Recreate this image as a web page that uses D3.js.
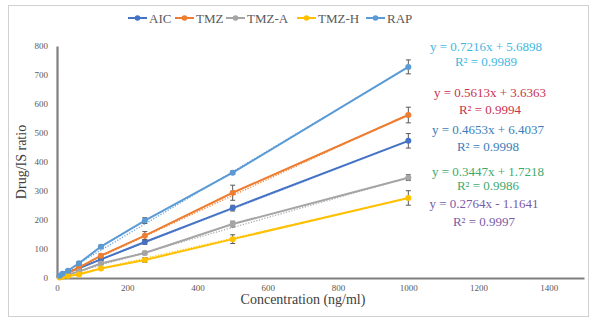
<!DOCTYPE html>
<html><head><meta charset="utf-8">
<script src="https://cdn.jsdelivr.net/npm/d3@7"></script>
<style>body{margin:0;background:#fff}svg{display:block}</style>
</head><body>
<svg id="c" width="590" height="320"></svg>
<script>
const concentrations = [7.8, 15.6, 31.25, 62.5, 125, 250, 500, 1000];
const seriesNames = ["AIC", "TMZ", "TMZ-A", "TMZ-H", "RAP"];
const AIC   = [7, 12, 20, 33, 64, 124, 241, 473];
const TMZ   = [6, 10, 18, 36, 77, 146, 294, 562];
const TMZ_A = [4, 7, 12, 22, 50, 86, 186, 346];
const TMZ_H = [2, 4, 7, 12, 33, 62, 134, 276];
const RAP   = [8, 15, 25, 51, 108, 198, 363, 728];
const errAIC   = [1, 1, 2, 3, 4, 8, 10, 25];
const errTMZ   = [1, 1, 2, 3, 5, 14, 26, 27];
const errTMZ_A = [1, 1, 1, 2, 3, 6, 10, 10];
const errTMZ_H = [1, 1, 1, 2, 4, 8, 15, 25];
const errRAP   = [1, 2, 3, 5, 5, 10, 6, 24];
const slopes = [0.4653, 0.5613, 0.3447, 0.2764, 0.7216];
const intercepts = [6.4037, 3.6363, 1.7218, -1.1641, 5.6898];
const equations = ["y = 0.4653x + 6.4037", "y = 0.5613x + 3.6363", "y = 0.3447x + 1.7218", "y = 0.2764x - 1.1641", "y = 0.7216x + 5.6898"];
const r2Labels = ["R² = 0.9998", "R² = 0.9994", "R² = 0.9986", "R² = 0.9997", "R² = 0.9989"];
const xTicks = [0, 200, 400, 600, 800, 1000, 1200, 1400];
const yTicks = [0, 100, 200, 300, 400, 500, 600, 700, 800];

const values = [AIC, TMZ, TMZ_A, TMZ_H, RAP];
const errors = [errAIC, errTMZ, errTMZ_A, errTMZ_H, errRAP];
const colors = ["#4472C4", "#ED7D31", "#A5A5A5", "#FFC000", "#5B9BD5"];
const eqColors = ["#3A7DB8", "#C8324E", "#3DAA6E", "#7A5BA8", "#3FB8E2"];
const eqPos = [[488, 134, 151], [490, 97, 114], [488, 176, 190], [484, 208, 226], [486, 51, 66]];

const svg = d3.select("#c");
const font = "'Liberation Serif','Times New Roman',serif";

// frame
svg.append("rect").attr("x", 8.5).attr("y", 5.5).attr("width", 580).attr("height", 311)
  .attr("fill", "none").attr("stroke", "#d0d0d0").attr("stroke-width", 1);

const x = d3.scaleLinear().domain([0, 1500]).range([57, 584]);
const y = d3.scaleLinear().domain([0, 800]).range([278, 46]);

// axes
const xAxis = d3.axisBottom(x).tickValues(xTicks).tickFormat(d3.format("d")).tickSize(0).tickPadding(7);
const yAxis = d3.axisLeft(y).tickValues(yTicks).tickFormat(d3.format("d")).tickSize(0).tickPadding(9);
const gx = svg.append("g").attr("transform", `translate(0,${y(0)})`).call(xAxis);
const gy = svg.append("g").attr("transform", `translate(${x(0)},0)`).call(yAxis);
[gx, gy].forEach(g => {
  g.select(".domain").attr("stroke", "#7f7f7f").attr("stroke-width", 2.2);
  g.selectAll("text").attr("font-family", font).attr("font-size", 9).attr("fill", "#595959");
});

// trendlines (dotted)
seriesNames.forEach((n, i) => {
  svg.append("line")
    .attr("x1", x(0)).attr("y1", y(intercepts[i]))
    .attr("x2", x(1000)).attr("y2", y(slopes[i] * 1000 + intercepts[i]))
    .attr("stroke", colors[i]).attr("stroke-width", 1.3).attr("stroke-dasharray", "1.2,1.6").attr("opacity", 0.9);
});

// series
const line = d3.line().x(d => x(d[0])).y(d => y(d[1]));
seriesNames.forEach((n, i) => {
  const pts = concentrations.map((c, j) => [c, values[i][j]]);
  svg.append("path").datum(pts).attr("d", line).attr("fill", "none")
    .attr("stroke", colors[i]).attr("stroke-width", 2);
  const g = svg.append("g");
  pts.forEach((p, j) => {
    const e = errors[i][j];
    const cx = x(p[0]);
    g.append("line").attr("x1", cx).attr("x2", cx).attr("y1", y(p[1] - e)).attr("y2", y(p[1] + e))
      .attr("stroke", "#595959").attr("stroke-width", 1);
    [p[1] - e, p[1] + e].forEach(v => g.append("line").attr("x1", cx - 2.5).attr("x2", cx + 2.5)
      .attr("y1", y(v)).attr("y2", y(v)).attr("stroke", "#595959").attr("stroke-width", 1));
    g.append("circle").attr("cx", cx).attr("cy", y(p[1])).attr("r", 3).attr("fill", colors[i]);
  });
});

// equations
seriesNames.forEach((n, i) => {
  const [cx, y1, y2] = eqPos[i];
  svg.append("text").attr("x", cx).attr("y", y1).attr("text-anchor", "middle")
    .attr("font-family", font).attr("font-size", 13).attr("fill", eqColors[i]).text(equations[i]);
  svg.append("text").attr("x", cx).attr("y", y2).attr("text-anchor", "middle")
    .attr("font-family", font).attr("font-size", 13).attr("fill", eqColors[i]).text(r2Labels[i]);
});

// legend
const legX = [128, 175, 226, 297, 366];
seriesNames.forEach((n, i) => {
  const lx = legX[i], ly = 18;
  svg.append("line").attr("x1", lx).attr("x2", lx + 19).attr("y1", ly).attr("y2", ly)
    .attr("stroke", colors[i]).attr("stroke-width", 2);
  svg.append("circle").attr("cx", lx + 9.5).attr("cy", ly).attr("r", 2.8).attr("fill", colors[i]);
  svg.append("text").attr("x", lx + 21).attr("y", ly + 4.5).attr("font-family", font)
    .attr("font-size", 13).attr("fill", "#595959").text(n);
});

// axis titles
svg.append("text").attr("x", 303).attr("y", 304).attr("text-anchor", "middle")
  .attr("font-family", font).attr("font-size", 14).attr("fill", "#404040").text("Concentration (ng/ml)");
svg.append("text").attr("transform", "translate(26,162) rotate(-90)").attr("text-anchor", "middle")
  .attr("font-family", font).attr("font-size", 14).attr("fill", "#404040").text("Drug/IS ratio");
</script>
</body></html>
